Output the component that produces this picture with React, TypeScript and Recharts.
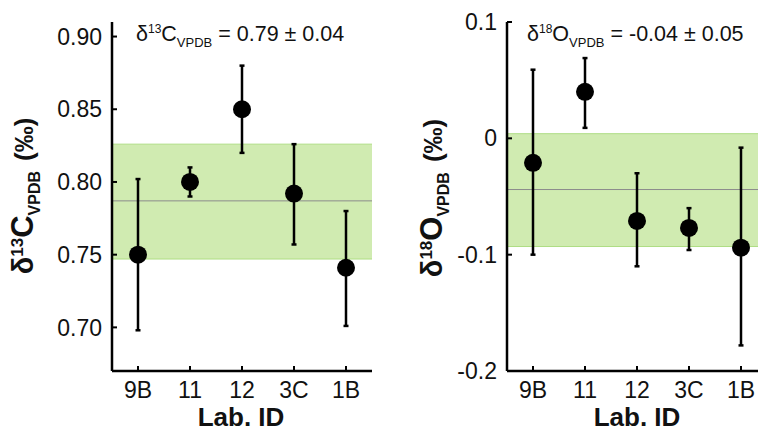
import React from 'react';
import {
  ComposedChart,
  Line,
  XAxis,
  YAxis,
  ErrorBar,
  ReferenceArea,
  ReferenceLine,
} from 'recharts';

const labIds = ['9B', '11', '12', '3C', '1B'];

// δ13C VPDB (‰)
const carbonValues = [0.75, 0.8, 0.85, 0.792, 0.741];
const carbonLow = [0.698, 0.79, 0.82, 0.757, 0.701];
const carbonHigh = [0.802, 0.81, 0.88, 0.826, 0.78];
const carbonMean = 0.787;
const carbonBand = [0.747, 0.826];
const carbonTicks = [0.7, 0.75, 0.8, 0.85, 0.9];

// δ18O VPDB (‰)
const oxygenValues = [-0.021, 0.04, -0.071, -0.077, -0.094];
const oxygenLow = [-0.1, 0.009, -0.11, -0.096, -0.178];
const oxygenHigh = [0.059, 0.069, -0.03, -0.06, -0.008];
const oxygenMean = -0.044;
const oxygenBand = [-0.093, 0.004];
const oxygenTicks = [-0.2, -0.1, 0, 0.1];

const FONT = '"Liberation Sans", Arial, sans-serif';
const BAND_FILL = '#d0ebb1';
const BAND_EDGE = '#aedd84';

interface PanelProps {
  left: number;
  width: number;
  axisWidth: number;
  values: number[];
  low: number[];
  high: number[];
  mean: number;
  band: number[];
  domain: [number, number];
  ticks: number[];
  fmt: (v: number) => string;
}

const Panel = ({ left, width, axisWidth, values, low, high, mean, band, domain, ticks, fmt }: PanelProps) => {
  // x is the position of the lab in labIds, the axis prints the id
  const data = labIds.map((id, i) => ({
    x: i,
    id,
    v: values[i],
    err: [values[i] - low[i], high[i] - values[i]],
  }));
  const tickStyle = { fill: '#111', fontSize: 23, fontFamily: FONT };

  return (
    <div style={{ position: 'absolute', left, top: 0 }}>
      <ComposedChart width={width} height={434} data={data} margin={{ top: 22, right: 8, bottom: 0, left: 0 }}>
        <ReferenceArea y1={band[0]} y2={band[1]} fill={BAND_FILL} fillOpacity={1} stroke="none" />
        <ReferenceLine y={band[1]} stroke={BAND_EDGE} strokeWidth={1} />
        <ReferenceLine y={band[0]} stroke={BAND_EDGE} strokeWidth={1} />
        <ReferenceLine y={mean} stroke="#8c8c8c" strokeWidth={1} />
        <XAxis
          dataKey="x"
          type="number"
          domain={[-0.5, labIds.length - 0.5]}
          ticks={labIds.map((_, i) => i)}
          tickFormatter={(i: number) => labIds[i]}
          height={63}
          interval={0}
          tickSize={-5}
          tickMargin={16}
          axisLine={{ stroke: '#000', strokeWidth: 2.5 }}
          tickLine={{ stroke: '#000', strokeWidth: 2 }}
          tick={tickStyle}
        />
        <YAxis
          type="number"
          domain={domain}
          ticks={ticks}
          width={axisWidth}
          tickSize={-5}
          tickMargin={15}
          tickFormatter={fmt}
          axisLine={{ stroke: '#000', strokeWidth: 2.5 }}
          tickLine={{ stroke: '#000', strokeWidth: 2 }}
          tick={tickStyle}
        />
        <Line
          dataKey="v"
          stroke="none"
          isAnimationActive={false}
          dot={{ r: 9, fill: '#000', stroke: 'none' }}
          activeDot={false}
        >
          <ErrorBar dataKey="err" direction="y" width={2.5} stroke="#000" strokeWidth={2.5} />
        </Line>
      </ComposedChart>
    </div>
  );
};

// rotated y-axis title, centred on (cx, cy)
const YTitle = ({ cx, cy, iso, el }: { cx: number; cy: number; iso: string; el: string }) => (
  <div
    style={{
      position: 'absolute',
      left: cx,
      top: cy,
      transform: 'translate(-50%, -50%) rotate(-90deg)',
      whiteSpace: 'nowrap',
      fontFamily: FONT,
      fontWeight: 700,
      color: '#111',
      lineHeight: '30px',
    }}
  >
    <span style={{ fontSize: 29 }}>δ</span>
    <span style={{ fontSize: 17, position: 'relative', top: -10 }}>{iso}</span>
    <span style={{ fontSize: 31 }}>{el}</span>
    <span style={{ fontSize: 16, position: 'relative', top: 7 }}>VPDB</span>
    <span style={{ fontSize: 26, marginLeft: 10 }}>(‰)</span>
  </div>
);

const Annotation = ({ left, iso, el, text }: { left: number; iso: string; el: string; text: string }) => (
  <div
    style={{
      position: 'absolute',
      left,
      top: 24,
      whiteSpace: 'nowrap',
      fontFamily: FONT,
      fontSize: 21.5,
      lineHeight: '21px',
      color: '#111',
    }}
  >
    <span>δ</span>
    <span style={{ fontSize: 12, position: 'relative', top: -8 }}>{iso}</span>
    <span>{el}</span>
    <span style={{ fontSize: 13, position: 'relative', top: 6 }}>VPDB</span>
    <span>{text}</span>
  </div>
);

const XTitle = ({ cx }: { cx: number }) => (
  <div
    style={{
      position: 'absolute',
      left: cx,
      top: 403,
      transform: 'translateX(-50%)',
      whiteSpace: 'nowrap',
      fontFamily: FONT,
      fontWeight: 700,
      fontSize: 26,
      lineHeight: '29px',
      color: '#111',
    }}
  >
    Lab. ID
  </div>
);

export default function App() {
  return (
    <div
      style={{
        position: 'absolute',
        left: 0,
        top: 0,
        width: 758,
        height: 434,
        overflow: 'hidden',
        background: '#fff',
      }}
    >
      <Panel
        left={0}
        width={380}
        axisWidth={112}
        values={carbonValues}
        low={carbonLow}
        high={carbonHigh}
        mean={carbonMean}
        band={carbonBand}
        domain={[0.67, 0.91]}
        ticks={carbonTicks}
        fmt={(v) => v.toFixed(2)}
      />
      <Panel
        left={380}
        width={395}
        axisWidth={127}
        values={oxygenValues}
        low={oxygenLow}
        high={oxygenHigh}
        mean={oxygenMean}
        band={oxygenBand}
        domain={[-0.2, 0.1]}
        ticks={oxygenTicks}
        fmt={(v) => String(v)}
      />
      <Annotation left={136} iso="13" el="C" text=" = 0.79 ± 0.04" />
      <Annotation left={527} iso="18" el="O" text=" = -0.04 ± 0.05" />
      <YTitle cx={25} cy={196} iso="13" el="C" />
      <YTitle cx={434} cy={198} iso="18" el="O" />
      <XTitle cx={241} />
      <XTitle cx={637} />
    </div>
  );
}
